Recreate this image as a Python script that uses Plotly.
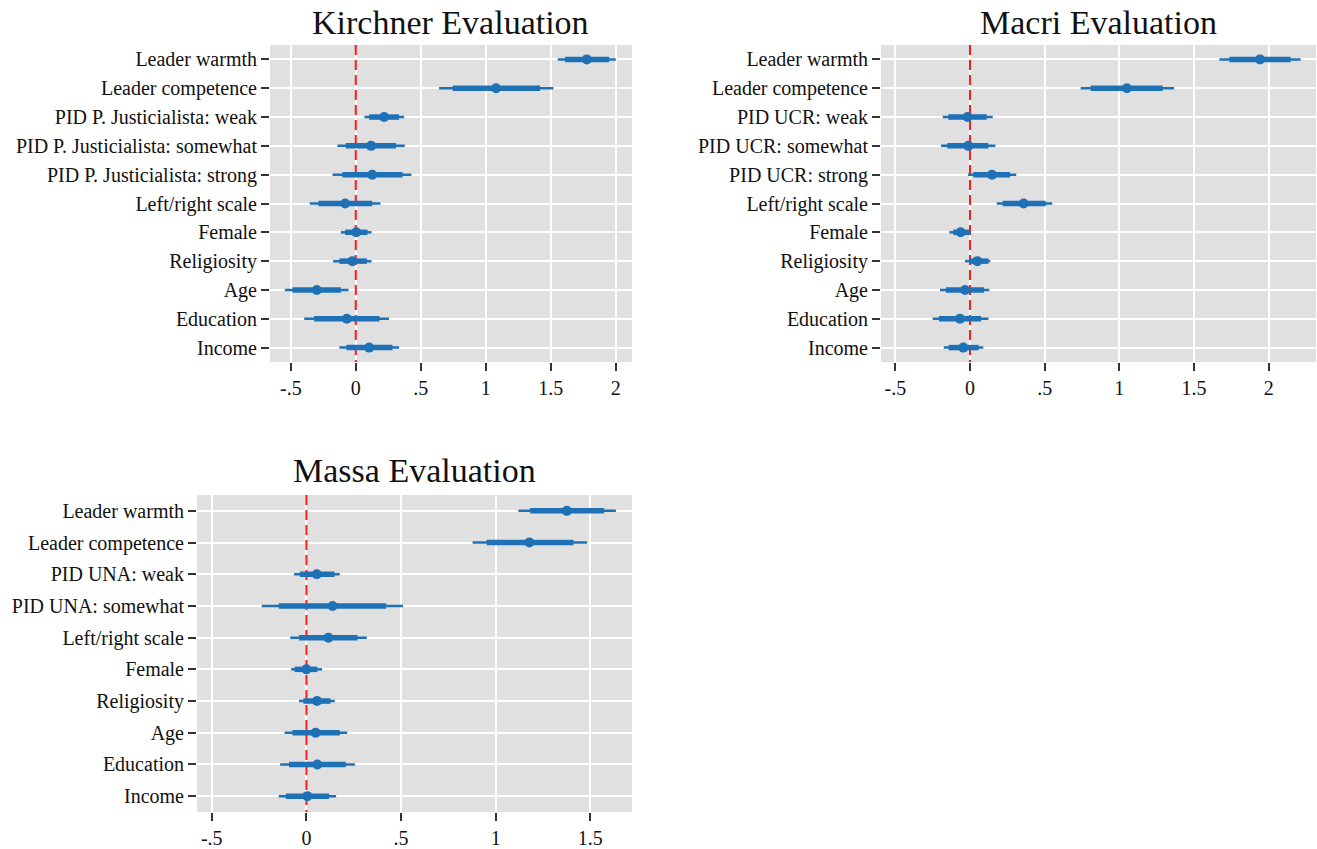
import plotly.graph_objects as go

# ---- data -------------------------------------------------------------
kirchner_labels = ["Leader warmth", "Leader competence", "PID P. Justicialista: weak",
                   "PID P. Justicialista: somewhat", "PID P. Justicialista: strong",
                   "Left/right scale", "Female", "Religiosity", "Age", "Education", "Income"]
kirchner_est = [1.777, 1.079, 0.218, 0.118, 0.126, -0.082, 0.003, -0.026, -0.300, -0.069, 0.103]
kirchner_lo95 = [1.554, 0.641, 0.067, -0.141, -0.179, -0.354, -0.115, -0.174, -0.546, -0.397, -0.126]
kirchner_hi95 = [2.000, 1.521, 0.372, 0.377, 0.428, 0.190, 0.121, 0.121, -0.056, 0.256, 0.333]
kirchner_lo90 = [1.610, 0.746, 0.103, -0.077, -0.103, -0.287, -0.082, -0.126, -0.487, -0.321, -0.072]
kirchner_hi90 = [1.949, 1.418, 0.333, 0.310, 0.359, 0.126, 0.090, 0.085, -0.115, 0.182, 0.282]

macri_labels = ["Leader warmth", "Leader competence", "PID UCR: weak", "PID UCR: somewhat",
                "PID UCR: strong", "Left/right scale", "Female", "Religiosity", "Age",
                "Education", "Income"]
macri_est = [1.942, 1.051, -0.016, -0.011, 0.147, 0.359, -0.063, 0.049, -0.033, -0.067, -0.045]
macri_lo95 = [1.670, 0.741, -0.183, -0.194, -0.013, 0.179, -0.138, -0.033, -0.201, -0.250, -0.176]
macri_hi95 = [2.214, 1.366, 0.152, 0.170, 0.310, 0.551, 0.007, 0.136, 0.129, 0.123, 0.089]
macri_lo90 = [1.737, 0.808, -0.145, -0.152, 0.022, 0.219, -0.112, -0.004, -0.161, -0.208, -0.143]
macri_hi90 = [2.147, 1.290, 0.112, 0.123, 0.268, 0.507, -0.004, 0.123, 0.094, 0.074, 0.058]

massa_labels = ["Leader warmth", "Leader competence", "PID UNA: weak", "PID UNA: somewhat",
                "Left/right scale", "Female", "Religiosity", "Age", "Education", "Income"]
massa_est = [1.376, 1.178, 0.055, 0.138, 0.116, 0.000, 0.056, 0.049, 0.058, 0.005]
massa_lo95 = [1.120, 0.878, -0.065, -0.236, -0.085, -0.081, -0.039, -0.115, -0.139, -0.146]
massa_hi95 = [1.635, 1.483, 0.176, 0.511, 0.319, 0.083, 0.150, 0.215, 0.256, 0.157]
massa_lo90 = [1.182, 0.952, -0.035, -0.146, -0.039, -0.062, -0.016, -0.074, -0.092, -0.109]
massa_hi90 = [1.573, 1.411, 0.148, 0.421, 0.270, 0.058, 0.127, 0.176, 0.208, 0.120]

tick_vals = [-0.5, 0, 0.5, 1, 1.5, 2]
tick_text = ["-.5", "0", ".5", "1", "1.5", "2"]

# ---- style ------------------------------------------------------------
W, H = 1317, 849
BLUE = "#1f71b6"
BG = "#e0e0e0"
FONT = "Liberation Serif, Times New Roman, serif"

panels = [
    dict(title="Kirchner Evaluation", labels=kirchner_labels, est=kirchner_est,
         lo95=kirchner_lo95, hi95=kirchner_hi95, lo90=kirchner_lo90, hi90=kirchner_hi90,
         px=(270, 632), py=(45, 362), xr=(-0.66, 2.125), nticks=6, ty=23),
    dict(title="Macri Evaluation", labels=macri_labels, est=macri_est,
         lo95=macri_lo95, hi95=macri_hi95, lo90=macri_lo90, hi90=macri_hi90,
         px=(881, 1316), py=(45, 362), xr=(-0.596, 2.317), nticks=6, ty=23),
    dict(title="Massa Evaluation", labels=massa_labels, est=massa_est,
         lo95=massa_lo95, hi95=massa_hi95, lo90=massa_lo90, hi90=massa_hi90,
         px=(197, 632), py=(495, 812), xr=(-0.578, 1.72), nticks=5, ty=471),
]


def segments(lo, hi, pos):
    xs, ys = [], []
    for a, b, c in zip(lo, hi, pos):
        xs += [a, b, None]
        ys += [c, c, None]
    return xs, ys


fig = go.Figure()
layout = dict(width=W, height=H, margin=dict(l=0, r=0, t=0, b=0),
              paper_bgcolor="white", plot_bgcolor=BG, showlegend=False,
              font=dict(family=FONT, color="#111111"))
annotations = []

for i, p in enumerate(panels, start=1):
    xa = "x" if i == 1 else f"x{i}"
    ya = "y" if i == 1 else f"y{i}"
    cats = p["labels"]
    n = len(cats)
    pos = list(range(n))  # row index of each term, top to bottom

    # dashed reference line at zero, spanning the full panel height
    fig.add_trace(go.Scatter(x=[0, 0], y=[-0.5, n - 0.5], mode="lines",
                             xaxis=xa, yaxis=ya, hoverinfo="skip",
                             line=dict(color="#ff1a1a", width=2, dash="10px,5px")))

    xs, ys = segments(p["lo95"], p["hi95"], pos)
    fig.add_trace(go.Scatter(x=xs, y=ys, mode="lines", xaxis=xa, yaxis=ya,
                             line=dict(color=BLUE, width=2.5), hoverinfo="skip"))
    xs, ys = segments(p["lo90"], p["hi90"], pos)
    fig.add_trace(go.Scatter(x=xs, y=ys, mode="lines", xaxis=xa, yaxis=ya,
                             line=dict(color=BLUE, width=5.5), hoverinfo="skip"))
    fig.add_trace(go.Scatter(x=p["est"], y=pos, mode="markers", xaxis=xa, yaxis=ya,
                             text=cats, marker=dict(color=BLUE, size=10)))

    x0, x1 = p["px"]
    y0, y1 = p["py"]
    xkey = "xaxis" if i == 1 else f"xaxis{i}"
    ykey = "yaxis" if i == 1 else f"yaxis{i}"
    layout[xkey] = dict(domain=[x0 / W, x1 / W], anchor=ya, range=list(p["xr"]),
                        tickmode="array", tickvals=tick_vals[:p["nticks"]],
                        ticktext=tick_text[:p["nticks"]],
                        showgrid=True, gridcolor="white", gridwidth=2, zeroline=False,
                        ticks="outside", ticklen=8, tickwidth=2, tickcolor="#333333",
                        tickfont=dict(family=FONT, size=20, color="#111111"),
                        showline=False, fixedrange=True)
    layout[ykey] = dict(domain=[1 - y1 / H, 1 - y0 / H], anchor=xa,
                        range=[n - 0.5, -0.5], tickmode="array",
                        tickvals=pos, ticktext=cats,
                        showgrid=True, gridcolor="white", gridwidth=2, zeroline=False,
                        ticks="outside", ticklen=8, tickwidth=2, tickcolor="#333333",
                        tickfont=dict(family=FONT, size=20, color="#111111"),
                        showline=False, fixedrange=True)

    annotations.append(dict(text=p["title"], xref="paper", yref="paper",
                            x=(x0 + x1) / 2 / W, y=1 - p["ty"] / H,
                            xanchor="center", yanchor="middle", showarrow=False,
                            font=dict(family=FONT, size=34, color="#111111")))

layout["annotations"] = annotations
fig.update_layout(**layout)

fig.write_html("out.html")
